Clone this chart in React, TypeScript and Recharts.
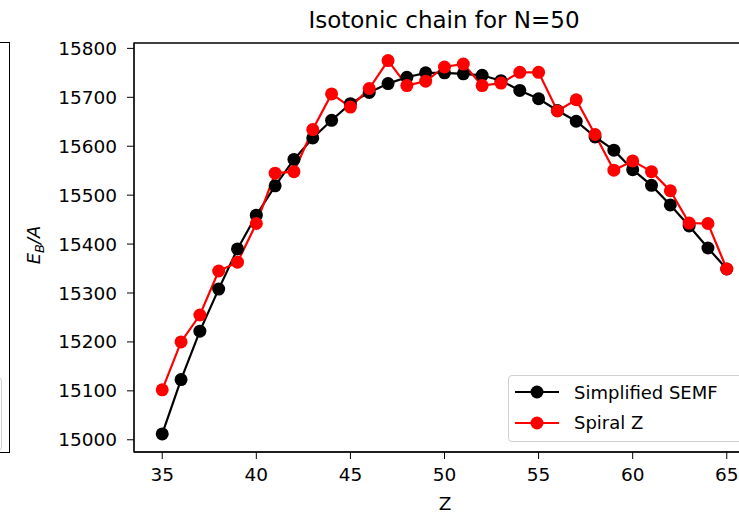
import { LineChart, Line, XAxis, YAxis, Legend, ReferenceArea } from 'recharts';

// proton number along the N=50 chain
const protonNumbers = [35, 36, 37, 38, 39, 40, 41, 42, 43, 44, 45, 46, 47, 48, 49, 50,
  51, 52, 53, 54, 55, 56, 57, 58, 59, 60, 61, 62, 63, 64, 65];

const semfValues = [15012, 15123, 15222, 15308, 15390, 15459, 15519, 15573, 15617, 15653,
  15687, 15710, 15728, 15741, 15750, 15750, 15748, 15745, 15734, 15714, 15697, 15673,
  15651, 15619, 15592, 15552, 15520, 15480, 15437, 15392, 15349];

const spiralValues = [15102, 15200, 15255, 15345, 15363, 15442, 15545, 15548, 15634, 15707,
  15680, 15718, 15775, 15724, 15733, 15762, 15768, 15724, 15729, 15751, 15751, 15672,
  15695, 15624, 15551, 15570, 15548, 15509, 15443, 15442, 15349];

const xTicks = [35, 40, 45, 50, 55, 60, 65];
const yTicks = [15000, 15100, 15200, 15300, 15400, 15500, 15600, 15700, 15800];

const xDomain: [number, number] = [33.5, 66.5];
const yDomain: [number, number] = [14975, 15811];

const data = protonNumbers.map((z, i) => ({ Z: z, semf: semfValues[i], spiral: spiralValues[i] }));

const FONT = 'DejaVu Sans, sans-serif';

const LegendBox = (props: any) => {
  const items = props.payload || [];
  return (
    <div style={{
      width: 238, height: 67, border: '1px solid #d0d0d0', borderRadius: 4,
      background: 'rgba(255,255,255,0.8)', fontFamily: FONT, fontSize: 18, color: '#000',
      boxSizing: 'border-box', paddingTop: 1,
    }}>
      {items.map((it: any) => (
        <div key={it.value} style={{ display: 'flex', alignItems: 'center', height: 30.5 }}>
          <svg width={60} height={20} style={{ marginLeft: 5 }}>
            <line x1={1} y1={10} x2={45} y2={10} stroke={it.color} strokeWidth={2.2} />
            <circle cx={23} cy={10} r={6.5} fill={it.color} />
          </svg>
          <span>{it.value}</span>
        </div>
      ))}
    </div>
  );
};

export default function App() {
  return (
    <div style={{ position: 'absolute', left: 0, top: 0, width: 739, height: 513, overflow: 'hidden', background: '#fff' }}>
      {/* edge of the neighbouring subplot */}
      <div style={{ position: 'absolute', left: -2, top: 42, width: 10, height: 409, border: '1.3px solid #000' }} />
      <div style={{ position: 'absolute', left: -12, top: 377, width: 12, height: 72, border: '1px solid #d0d0d0', borderRadius: 4 }} />
      <LineChart width={760} height={513} data={data} margin={{ top: 43, right: 5, left: 0, bottom: 0 }}>
        <text x={444} y={28} textAnchor="middle" fontFamily={FONT} fontSize={23} fill="#000">
          Isotonic chain for N=50
        </text>
        <text x={445} y={510} textAnchor="middle" fontFamily={FONT} fontSize={18.5} fill="#000">Z</text>
        <text transform="translate(40,245) rotate(-90)" textAnchor="middle" fontFamily={FONT} fontSize={18} fill="#000">
          <tspan fontStyle="italic">E</tspan>
          <tspan fontStyle="italic" fontSize={13} dy={4}>B</tspan>
          <tspan fontStyle="italic" dy={-4}>/A</tspan>
        </text>
        <XAxis
          dataKey="Z"
          type="number"
          domain={xDomain}
          ticks={xTicks}
          allowDataOverflow
          height={61}
          tickSize={7}
          tickMargin={9}
          stroke="#000"
          tick={{ fill: '#000', fontFamily: FONT, fontSize: 18.5 }}
        />
        <YAxis
          type="number"
          domain={yDomain}
          ticks={yTicks}
          allowDataOverflow
          width={134}
          tickSize={7}
          tickMargin={10}
          stroke="#000"
          tick={{ fill: '#000', fontFamily: FONT, fontSize: 18.5 }}
        />
        <ReferenceArea x1={xDomain[0]} x2={xDomain[1]} y1={yDomain[0]} y2={yDomain[1]} fill="none" stroke="#000" strokeWidth={1.3} />
        <Line
          dataKey="semf"
          name="Simplified SEMF"
          stroke="#000"
          strokeWidth={2.2}
          dot={{ r: 6.5, fill: '#000', stroke: '#000', strokeWidth: 0 }}
          isAnimationActive={false}
        />
        <Line
          dataKey="spiral"
          name="Spiral Z"
          stroke="#ff0000"
          strokeWidth={2.2}
          dot={{ r: 6.5, fill: '#ff0000', stroke: '#ff0000', strokeWidth: 0 }}
          isAnimationActive={false}
        />
        <Legend
          layout="vertical"
          align="center"
          verticalAlign="middle"
          content={<LegendBox />}
          wrapperStyle={{ left: 508, top: 375, width: 238 }}
        />
      </LineChart>
    </div>
  );
}
